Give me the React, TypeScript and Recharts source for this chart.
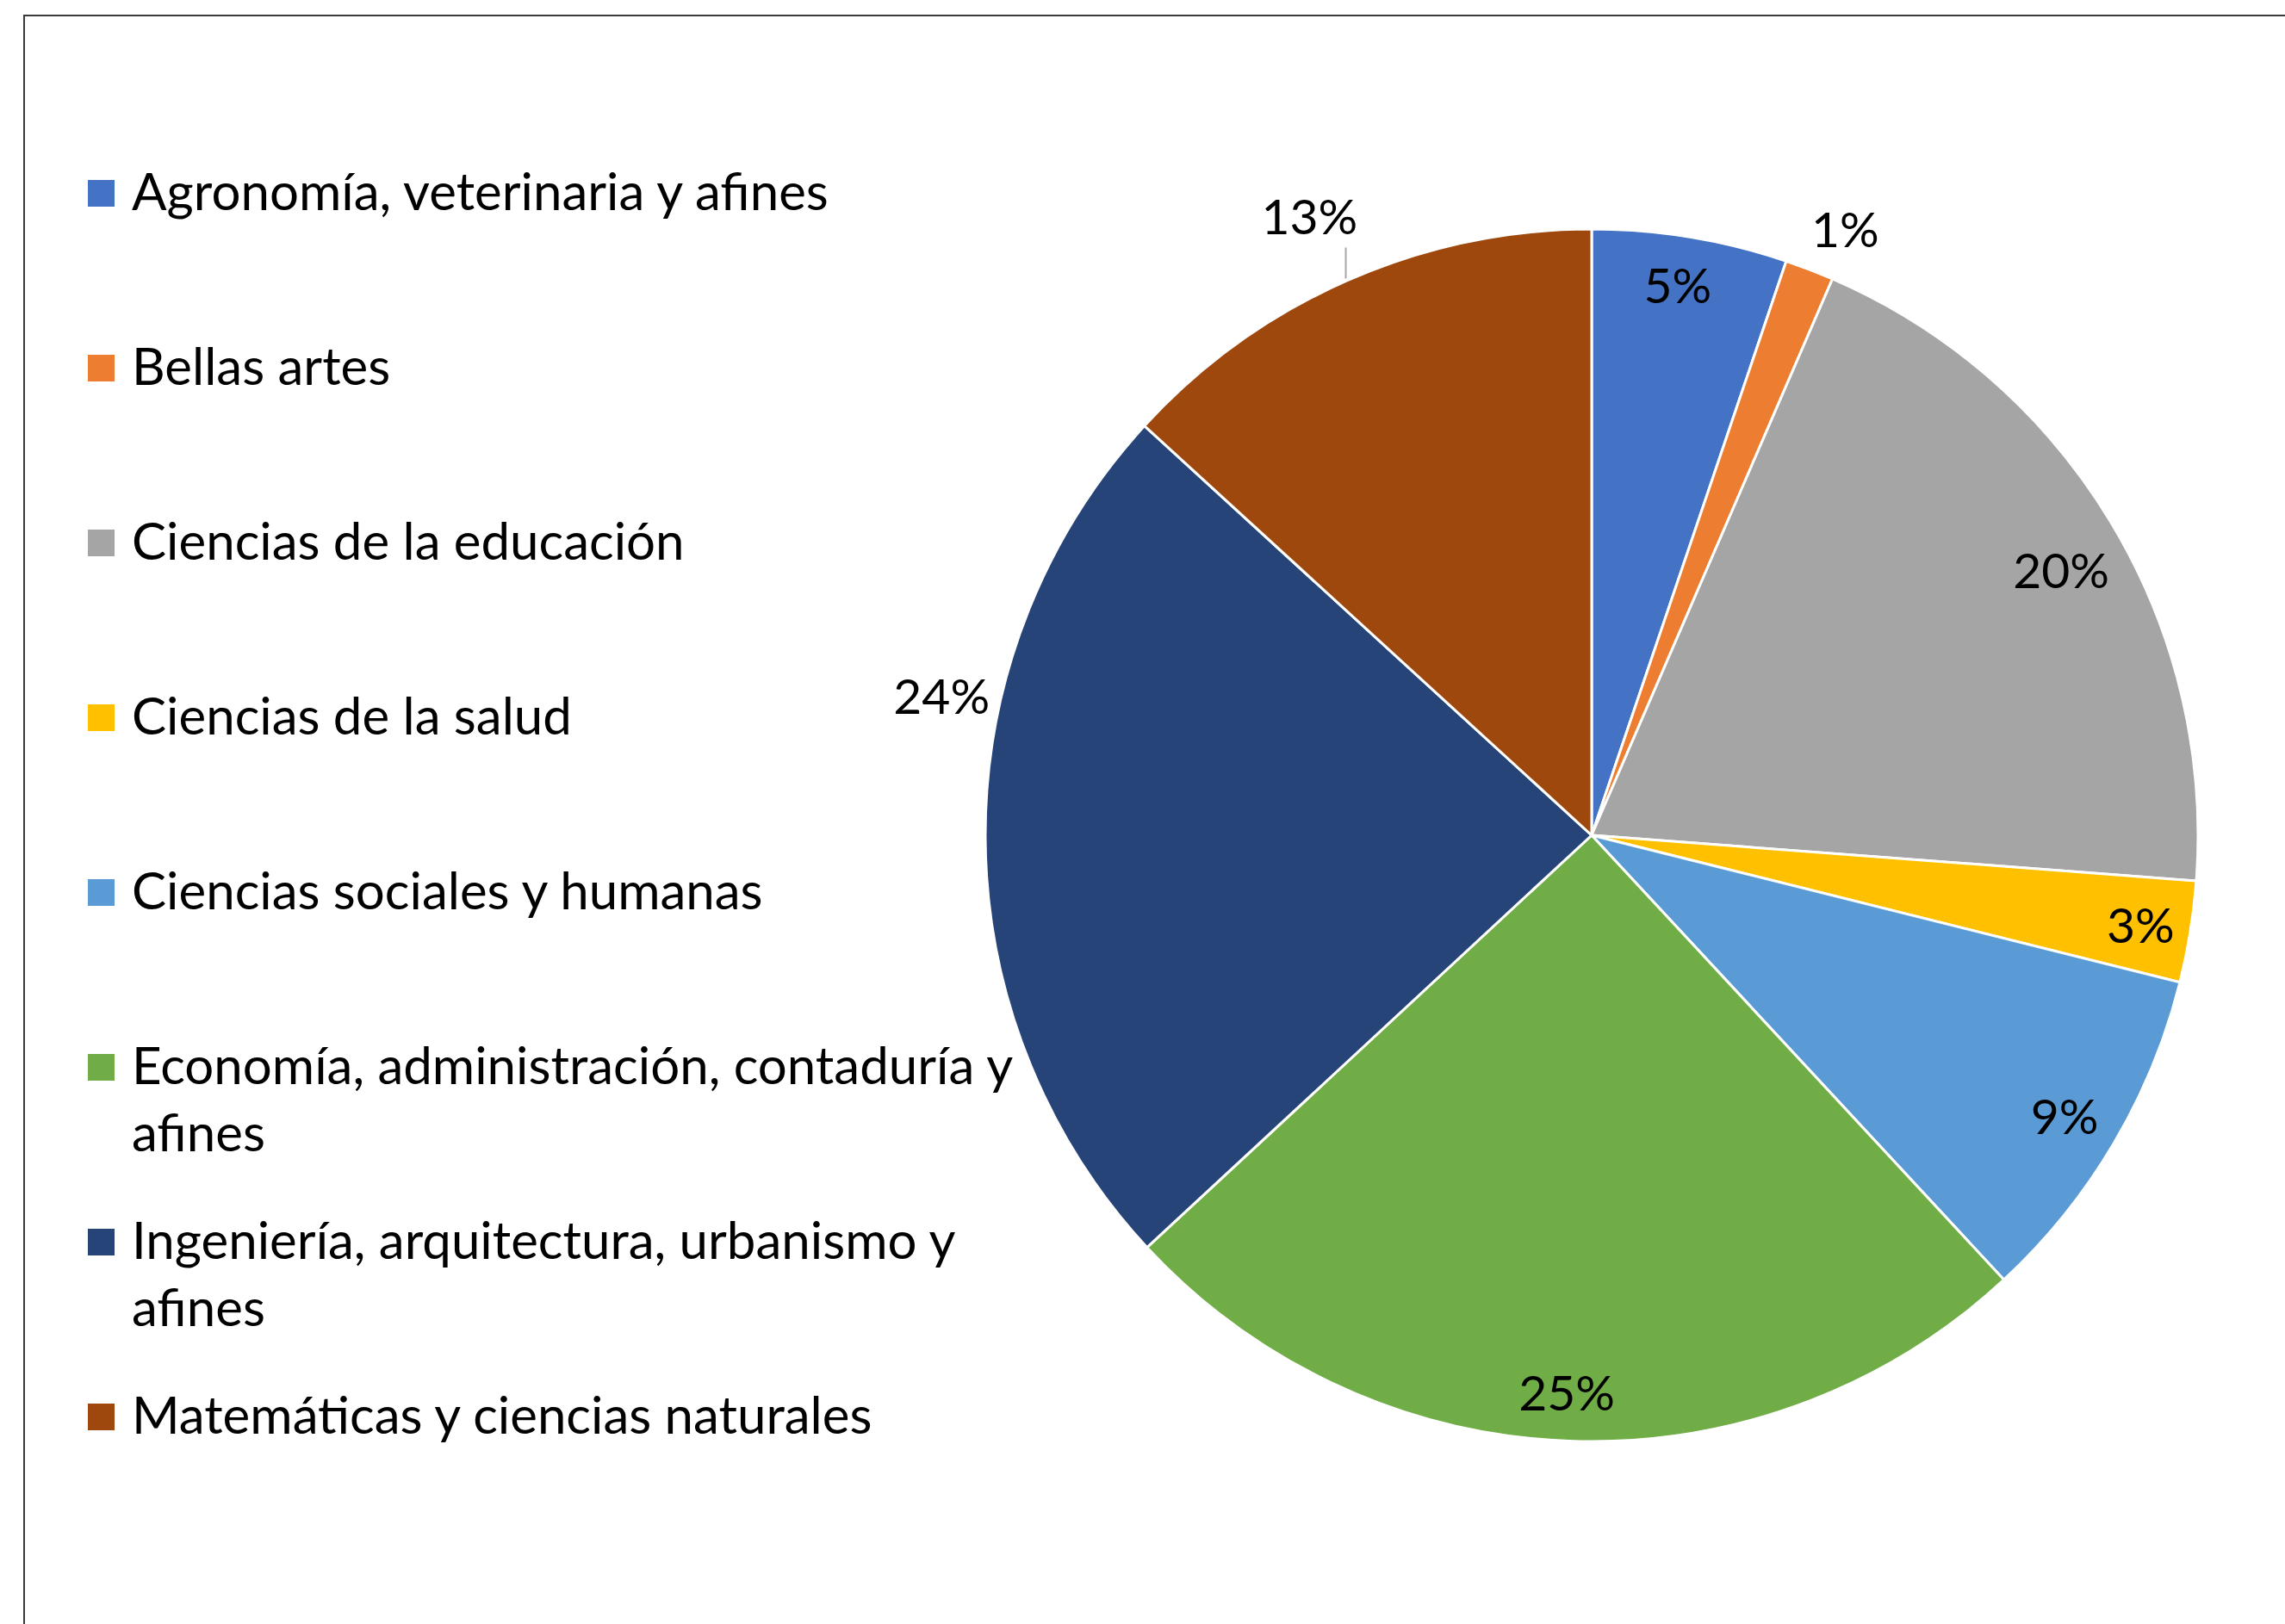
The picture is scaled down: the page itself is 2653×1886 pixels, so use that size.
import React from 'react';
import { PieChart, Pie, Cell, Legend } from 'recharts';

const categories = [
  'Agronomía, veterinaria y afines',
  'Bellas artes',
  'Ciencias de la educación',
  'Ciencias de la salud',
  'Ciencias sociales y humanas',
  'Economía, administración, contaduría y afines',
  'Ingeniería, arquitectura, urbanismo y afines',
  'Matemáticas y ciencias naturales',
];
const shares = [5.2, 1.3, 19.7, 2.7, 9.2, 25.0, 23.7, 13.2];
const colors = ['#4472C4', '#ED7D31', '#A5A5A5', '#FFC000', '#5B9BD5', '#70AD47', '#264478', '#9E480E'];

// label placement (style): radius factor relative to outer radius, clockwise angle shift in degrees
const labelRadius = [0.92, 1.085, 0.89, 0.917, 0.906, 0.918, 1.097, 1.124];
const labelAngleShift = [-0.5, 1.6, 1.6, 0, 0, 0.4, 12.4, -0.7];

const data = categories.map((name, i) => ({ name, value: shares[i] }));

const FONT = 'Lato, "Open Sans", sans-serif';
const LABEL_FONT_SIZE = 57;
const LEGEND_FONT_SIZE = 60;
const RAD = Math.PI / 180;

const renderLabel = (props: any) => {
  const { cx, cy, midAngle, outerRadius, percent, index } = props;
  const ang = midAngle - labelAngleShift[index];
  const r = outerRadius * labelRadius[index];
  const x = cx + r * Math.cos(-ang * RAD);
  const y = cy + r * Math.sin(-ang * RAD);
  let leader = null;
  if (index === 7) {
    const ex = cx + outerRadius * Math.cos(-ang * RAD) + 6;
    const ey = cy - Math.sqrt(outerRadius * outerRadius - (ex - cx) * (ex - cx));
    leader = <line x1={ex} y1={ey - 3} x2={ex} y2={ey - 39} stroke="#A6A6A6" strokeWidth={2} />;
  }
  return (
    <g key={`lbl-${index}`}>
      {leader}
      <text
        x={x}
        y={y}
        textAnchor="middle"
        dominantBaseline="central"
        fill="#000"
        fontFamily={FONT}
        fontSize={LABEL_FONT_SIZE}
      >
        {`${Math.round(percent * 100)}%`}
      </text>
    </g>
  );
};

const renderLegend = (props: any) => {
  const payload = props.payload || [];
  return (
    <div style={{ fontFamily: FONT, fontSize: LEGEND_FONT_SIZE, color: '#000' }}>
      {payload.map((entry: any, i: number) => (
        <div key={`leg-${i}`} style={{ position: 'relative', height: 203 }}>
          <div
            style={{
              position: 'absolute',
              left: 102,
              top: 27,
              width: 31,
              height: 31,
              background: entry.color || colors[i],
            }}
          />
          <div
            style={{
              position: 'absolute',
              left: 153,
              top: 0,
              width: 1045,
              lineHeight: '78px',
              whiteSpace: 'normal',
            }}
          >
            {entry.value}
          </div>
        </div>
      ))}
    </div>
  );
};

export default function App() {
  return (
    <div
      style={{
        position: 'fixed',
        left: 0,
        top: 0,
        width: 2653,
        height: 1886,
        overflow: 'hidden',
        background: '#fff',
      }}
    >
      <div
        style={{
          position: 'absolute',
          left: 27,
          top: 17,
          width: 2700,
          height: 2000,
          border: '2px solid #3A3A3A',
          boxSizing: 'border-box',
        }}
      />
      <div style={{ position: 'absolute', left: 0, top: 0 }}>
        <PieChart width={2653} height={1886} margin={{ top: 0, right: 0, bottom: 0, left: 0 }}>
          <Pie
            data={data}
            dataKey="value"
            nameKey="name"
            cx={1848}
            cy={970}
            outerRadius={704}
            startAngle={90}
            endAngle={-270}
            stroke="#FFFFFF"
            strokeWidth={3}
            label={renderLabel}
            labelLine={false}
            isAnimationActive={false}
          >
            {data.map((d, i) => (
              <Cell key={`cell-${i}`} fill={colors[i]} />
            ))}
          </Pie>
          <Legend
            layout="vertical"
            align="center"
            verticalAlign="middle"
            content={renderLegend}
            wrapperStyle={{ left: 0, top: 182, width: 1220 }}
          />
        </PieChart>
      </div>
    </div>
  );
}
